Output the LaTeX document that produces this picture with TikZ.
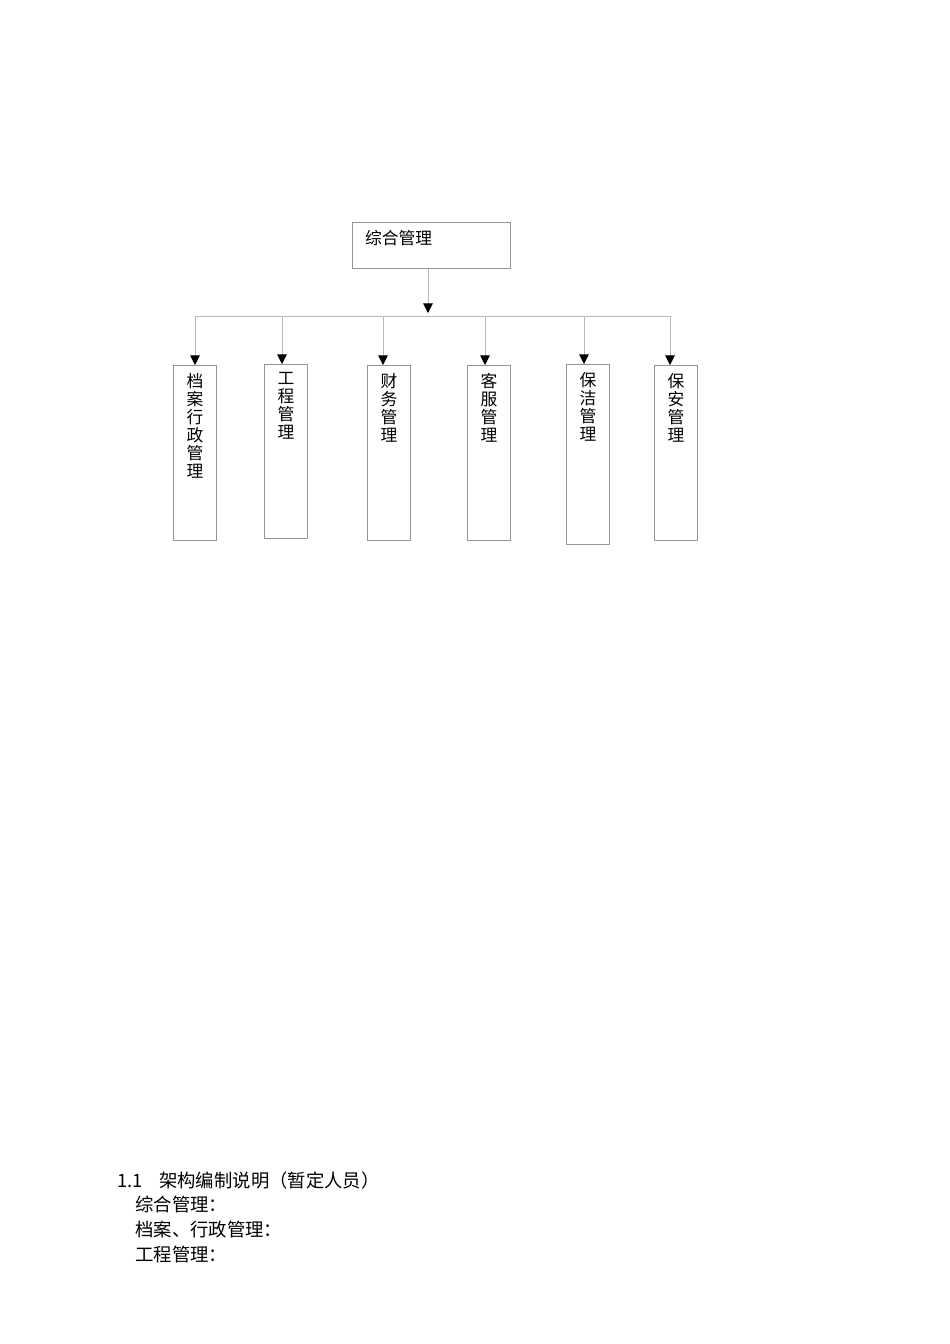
\documentclass[tikz,border=0pt]{standalone}
\usepackage{xcolor}
\usepackage{fontspec}
\setmainfont{Noto Sans CJK SC}
\usetikzlibrary{arrows.meta,positioning}

\definecolor{boxgray}{RGB}{150,150,150}
\definecolor{linegray}{RGB}{185,185,185}

\begin{document}
\begin{tikzpicture}[x=0.6266pt, y=-0.6266pt]
        % Define styles
        \tikzstyle{dept} = [rectangle, draw=boxgray, line width=0.6pt, inner sep=0pt, anchor=north west, minimum width=26.9pt]
        \tikzstyle{vtext} = [align=center, inner sep=0pt, font=\fontsize{10.5}{11.3}\selectfont]
        \tikzstyle{link} = [draw=linegray, line width=0.6pt]
        \tikzstyle{arrow} = [link, -{Triangle[width=6pt,length=6pt,color=black]}]
        \tikzstyle{para} = [anchor=base west, inner sep=0pt, font=\fontsize{11.5}{15}\selectfont]

        % Page
        \useasboundingbox (0,0) rectangle (950,1344);

        % Top box
        \node [dept, minimum width=99pt, minimum height=28.8pt] (top) at (352,222) {};
        \node [vtext, anchor=north west, below right=5pt and 8pt of top.north west] (toptext) {综合管理};

        % Departments
        \node [dept, minimum height=109.7pt] (d1) at (173,365) {};
        \node [dept, minimum height=109.0pt] (d2) at (264,364) {};
        \node [dept, minimum height=109.7pt] (d3) at (367,365) {};
        \node [dept, minimum height=109.7pt] (d4) at (467,365) {};
        \node [dept, minimum height=112.8pt] (d5) at (566,364) {};
        \node [dept, minimum height=109.7pt] (d6) at (654,365) {};

        \node [vtext, below=5pt of d1.north] (t1) {档\\案\\行\\政\\管\\理};
        \node [vtext, below=5pt of d2.north] (t2) {工\\程\\管\\理};
        \node [vtext, below=5pt of d3.north] (t3) {财\\务\\管\\理};
        \node [vtext, below=5pt of d4.north] (t4) {客\\服\\管\\理};
        \node [vtext, below=5pt of d5.north] (t5) {保\\洁\\管\\理};
        \node [vtext, below=5pt of d6.north] (t6) {保\\安\\管\\理};

        % Bus
        \coordinate (hub) at (428,313);
        \coordinate (b1) at (195,316);
        \coordinate (b2) at (282,316);
        \coordinate (b3) at (383,316);
        \coordinate (b4) at (485,316);
        \coordinate (b5) at (584,316);
        \coordinate (b6) at (670,316);

        % Arrows
        \draw [arrow] (top.south -| hub) -- (hub);
        \draw [link] (b1) -- (b6);
        \draw [arrow] (b1) -- (b1 |- d1.north);
        \draw [arrow] (b2) -- (b2 |- d2.north);
        \draw [arrow] (b3) -- (b3 |- d3.north);
        \draw [arrow] (b4) -- (b4 |- d4.north);
        \draw [arrow] (b5) -- (b5 |- d5.north);
        \draw [arrow] (b6) -- (b6 |- d6.north);

        % Notes
        \node [para] (title) at (117,1187) {\makebox[26.3pt][l]{1.1}架构编制说明（暂定人员）};
        \node [para] (n1) at (135,1211) {综合管理：};
        \node [para] (n2) at (135,1236) {档案、行政管理：};
        \node [para] (n3) at (135,1261) {工程管理：};
    \end{tikzpicture}
\end{document}
